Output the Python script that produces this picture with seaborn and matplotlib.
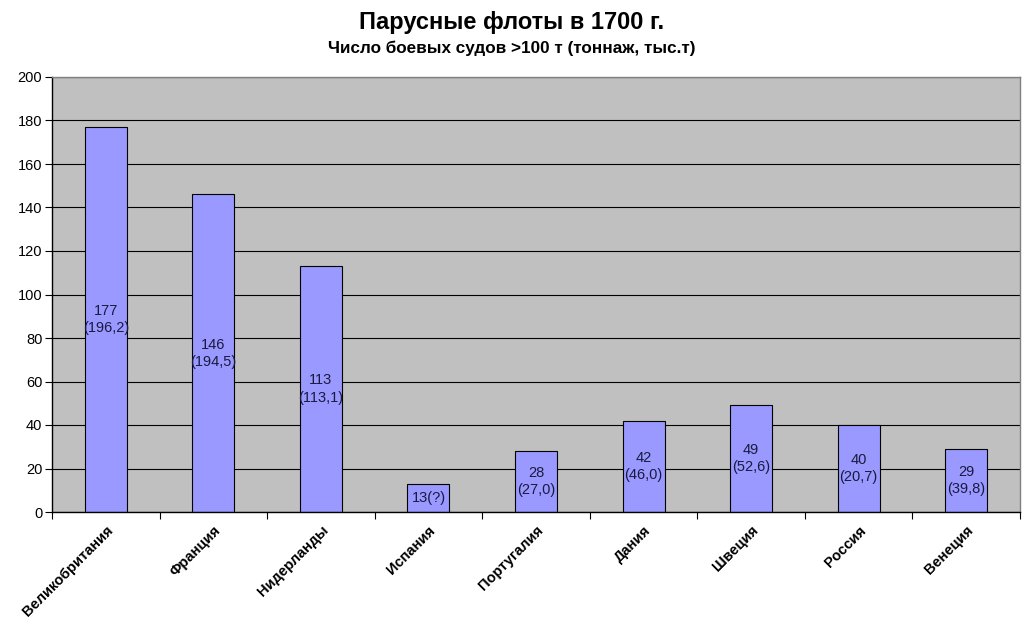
import matplotlib
matplotlib.use("Agg")
import matplotlib.pyplot as plt
import seaborn as sns
import pandas as pd
import numpy as np

countries = ["Великобритания", "Франция", "Нидерланды", "Испания", "Португалия",
             "Дания", "Швеция", "Россия", "Венеция"]
ships = [177, 146, 113, 13, 28, 42, 49, 40, 29]
labels = ["177\n(196,2)", "146\n(194,5)", "113\n(113,1)", "13(?)", "28\n(27,0)",
          "42\n(46,0)", "49\n(52,6)", "40\n(20,7)", "29\n(39,8)"]
yticks = [0, 20, 40, 60, 80, 100, 120, 140, 160, 180, 200]

sns.set_theme(style="white")
plt.rcParams['font.family'] = ['Liberation Sans', 'DejaVu Sans']
plt.rcParams['text.color'] = 'black'
plt.rcParams['xtick.color'] = 'black'
plt.rcParams['ytick.color'] = 'black'

df = pd.DataFrame({"country": countries, "ships": ships})

fig = plt.figure(figsize=(10.24, 6.28), dpi=100)
ax = fig.add_axes([52/1024, 1 - 512/628, (1020-52)/1024, (512-77)/628])
ax.set_facecolor("#C0C0C0")
ax.set_axisbelow(True)
ax.yaxis.grid(True, color="black", linewidth=0.8)

sns.barplot(data=df, x="country", y="ships", color="#9999FF", saturation=1,
            width=0.39, edgecolor="black", linewidth=0.8, ax=ax)

for i, (v, lab) in enumerate(zip(ships, labels)):
    ax.text(i, v / 2, lab, ha="center", va="center", fontsize=10.5,
            color="#1a1a40", linespacing=1.3)

ax.set_xlim(-0.5, len(countries) - 0.5)
ax.set_ylim(0, 200)
ax.set_yticks(yticks)
ax.set_yticklabels([str(t) for t in yticks], fontsize=10.5)
ax.set_xlabel("")
ax.set_ylabel("")
ax.set_xticks(range(len(countries)))
ax.set_xticklabels(countries, rotation=45, ha="right", rotation_mode="anchor",
                   fontsize=10.5, fontweight="bold")
ax.set_xticks(np.arange(-0.5, len(countries)), minor=True)
ax.tick_params(axis="x", which="major", length=0, pad=8)
ax.tick_params(axis="x", which="minor", length=5, width=0.8, color="black", direction="out", bottom=True)
ax.tick_params(axis="y", length=5, width=0.8, color="black", direction="out", left=True, pad=2)

for s in ["top", "right"]:
    ax.spines[s].set_color("#808080")
    ax.spines[s].set_linewidth(1)
for s in ["left", "bottom"]:
    ax.spines[s].set_color("black")
    ax.spines[s].set_linewidth(1)

fig.text(0.5, 1 - 22/628, "Парусные флоты в 1700 г.", ha="center", va="center",
         fontsize=17, fontweight="bold")
fig.text(0.5, 1 - 48/628, "Число боевых судов >100 т (тоннаж, тыс.т)", ha="center",
         va="center", fontsize=12.3, fontweight="bold")

fig.savefig("out.png", dpi=100)
